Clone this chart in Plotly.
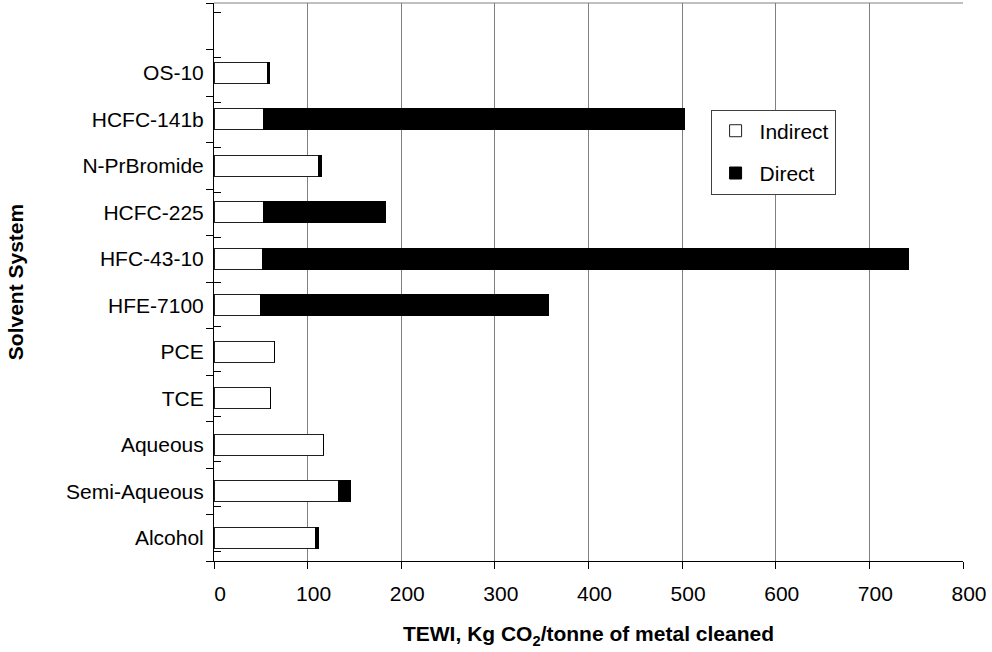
import plotly.graph_objects as go

# ---------------------------------------------------------------------
# Data (bottom to top, with one empty slot on top)
# ---------------------------------------------------------------------
solvents = ["Alcohol", "Semi-Aqueous", "Aqueous", "TCE", "PCE", "HFE-7100",
            "HFC-43-10", "HCFC-225", "N-PrBromide", "HCFC-141b", "OS-10", " "]
indirect = [108, 133, 117, 60, 65, 50, 52, 53, 112, 53, 57, None]
direct = [4, 13, 0, 0, 0, 307, 690, 130, 2.5, 450, 2, None]

FONT = "Liberation Sans, Arial, sans-serif"
GRID = "#808080"

# ---------------------------------------------------------------------
# Figure
# ---------------------------------------------------------------------
fig = go.Figure()
fig.add_trace(go.Bar(y=solvents, x=indirect, name="Indirect", orientation="h",
                     marker=dict(color="white", line=dict(color="#202020", width=1)),
                     legendgroup="a"))
fig.add_trace(go.Bar(y=solvents, x=direct, name="Direct", orientation="h",
                     marker=dict(color="black", line=dict(color="black", width=1)),
                     legendgroup="b"))
# invisible helper so the inside half of the crossing ticks can be drawn
fig.add_trace(go.Scatter(y=solvents, x=[None] * len(solvents), yaxis="y2",
                         showlegend=False, hoverinfo="skip", mode="markers"))

fig.update_layout(
    width=992, height=652,
    margin=dict(l=214, r=29, t=3, b=91),
    paper_bgcolor="white", plot_bgcolor="white",
    barmode="stack", bargap=0.55,
    font=dict(family=FONT, size=21, color="black"),
    showlegend=True,
    legend=dict(x=0.663, y=0.809, xanchor="left", yanchor="top",
                bordercolor="#404040", borderwidth=1, bgcolor="white",
                traceorder="grouped", tracegroupgap=12, itemwidth=38,
                font=dict(size=21)),
    xaxis=dict(range=[0, 800], dtick=100, showgrid=True, gridcolor=GRID, gridwidth=1,
               showline=True, linecolor="black", linewidth=1, zeroline=False,
               ticks="outside", ticklen=7, tickcolor="black",
               ticklabelstandoff=7, ticklabelshift=6,
               title=dict(text="<b>TEWI, Kg CO<sub>2</sub>/tonne of metal cleaned</b>",
                          standoff=22, font=dict(size=21))),
    yaxis=dict(type="category", categoryorder="array", categoryarray=solvents,
               showline=True, linecolor="black", linewidth=1, showgrid=False,
               ticks="outside", ticklen=7, tickcolor="black", tickson="boundaries",
               ticklabelstandoff=5,
               title=dict(text="<b>Solvent System</b>", standoff=36, font=dict(size=21))),
    yaxis2=dict(type="category", categoryorder="array", categoryarray=solvents,
                overlaying="y", side="left", showline=False, showgrid=False,
                ticks="inside", ticklen=7, tickcolor="black", tickson="boundaries",
                showticklabels=False),
    shapes=[dict(type="line", xref="paper", yref="paper", x0=0, x1=1, y0=1, y1=1,
                 line=dict(color=GRID, width=1))],
)

# drop the page's default body margin so the chart sits at the window origin
fig.write_html("out.html", config={"displayModeBar": False},
               post_script="document.body.style.margin='0';")
